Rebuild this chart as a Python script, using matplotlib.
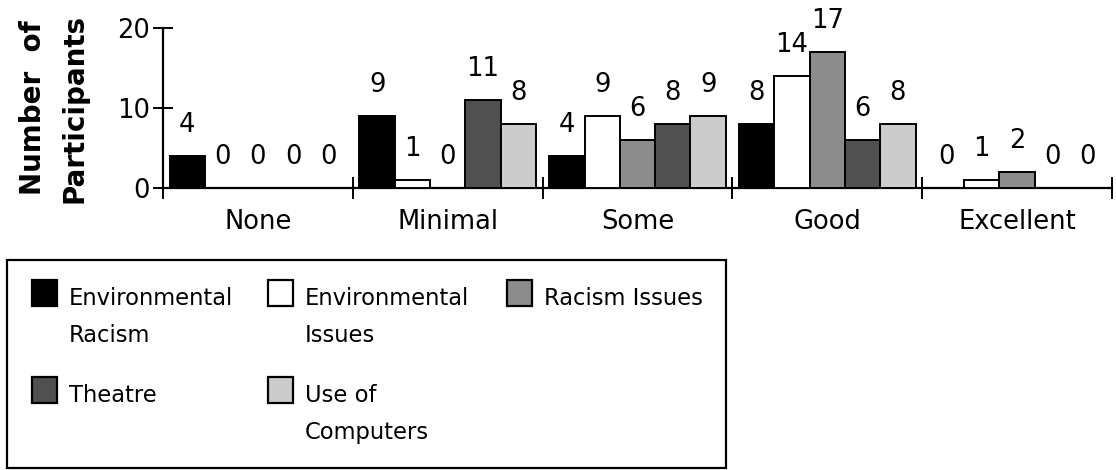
import matplotlib.pyplot as plt
from matplotlib.patches import Rectangle
import numpy as np

categories = ['None', 'Minimal', 'Some', 'Good', 'Excellent']
series_names = ['Environmental\nRacism', 'Environmental\nIssues', 'Racism Issues',
                'Theatre', 'Use of\nComputers']
env_racism = [4, 9, 4, 8, 0]
env_issues = [0, 1, 9, 14, 1]
racism_issues = [0, 0, 6, 17, 2]
theatre = [0, 11, 8, 6, 0]
computers = [0, 8, 9, 8, 0]
series_values = [env_racism, env_issues, racism_issues, theatre, computers]
colors = ['#000000', '#ffffff', '#8c8c8c', '#505050', '#cccccc']

W, H = 1116, 470
fig = plt.figure(figsize=(W / 100, H / 100), dpi=100)
ax = fig.add_axes([163 / W, 1 - 188 / H, (1112 - 163) / W, 160 / H])

x = np.arange(len(categories))
bw = 0.186
for i, (vals, col) in enumerate(zip(series_values, colors)):
    pos = x + (i - 2) * bw
    ax.bar(pos, vals, width=bw, color=col, edgecolor='black', linewidth=1.4, zorder=3)
    for px, v in zip(pos, vals):
        ax.annotate(str(v), (px, v), xytext=(0, 17), textcoords='offset points',
                    ha='center', va='baseline', fontsize=18.5)

ax.set_xlim(-0.5, len(categories) - 0.5)
ax.set_ylim(0, 20)
ax.set_yticks([0, 10, 20])
ax.tick_params(axis='y', direction='inout', length=15, width=1.4, labelsize=18.5, pad=2)
ax.set_xticks(x)
ax.set_xticklabels(categories)
ax.tick_params(axis='x', which='major', length=0, labelsize=18.5, pad=15)
ax.set_xticks(np.arange(-0.5, len(categories)), minor=True)
ax.tick_params(axis='x', which='minor', direction='inout', length=16, width=1.4)
for s in ['top', 'right']:
    ax.spines[s].set_visible(False)
for s in ['left', 'bottom']:
    ax.spines[s].set_linewidth(1.6)

# y label as figure text, centred in the left margin
fig.text(54 / W, 1 - 108 / H, 'Number  of\nParticipants', fontsize=20, fontweight='bold',
         rotation=90, ha='center', va='center', multialignment='center', linespacing=1.6)

# legend drawn by hand in pixel coordinates
lax = fig.add_axes([0, 0, 1, 1])
lax.set_xlim(0, W)
lax.set_ylim(H, 0)
lax.axis('off')
lax.add_patch(Rectangle((7, 260), 719, 208, facecolor='white', edgecolor='black', linewidth=1.6))
col_x = [32, 268, 507]
row_y = [280, 377]
for k, (name, col) in enumerate(zip(series_names, colors)):
    cx = col_x[k % 3]
    ry = row_y[k // 3]
    lax.add_patch(Rectangle((cx, ry), 25, 26, facecolor=col, edgecolor='black', linewidth=1.6))
    lax.text(cx + 37, ry + 7, name, fontsize=16.3, va='top', ha='left', linespacing=1.75)

fig.savefig('out.png', dpi=100)
